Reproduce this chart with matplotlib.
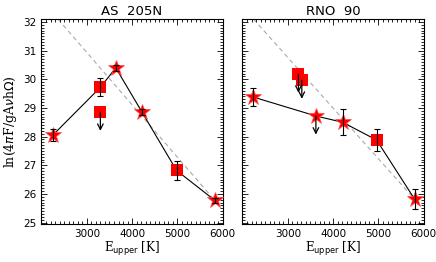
import matplotlib
matplotlib.use('Agg')
import matplotlib.pyplot as plt
import numpy as np
from matplotlib.ticker import MultipleLocator

# AS 205N
as_star_x = [2250, 3640, 4220, 5820]
as_star_y = [28.05, 30.40, 28.85, 25.78]
as_star_err = [0.21, 0.10, 0.10, 0.08]
as_sq_x = [3300, 4980]
as_sq_y = [29.72, 26.82]
as_sq_err = [0.31, 0.33]
as_lim_x = [3300]
as_lim_y = [28.85]
as_line_x = [2250, 3300, 3640, 4220, 4980, 5820]
as_line_y = [28.05, 29.72, 30.40, 28.85, 26.82, 25.78]
as_fit_x = [2365, 5820]
as_fit_y = [32.1, 25.78]

# RNO 90
rno_star_x = [2240, 4210, 5800]
rno_star_y = [29.38, 28.50, 25.81]
rno_star_err = [0.30, 0.45, 0.35]
rno_sq_x = [4960]
rno_sq_y = [27.88]
rno_sq_err = [0.37]
rno_limsq_x = [3235, 3310]
rno_limsq_y = [30.18, 29.97]
rno_limstar_x = [3620]
rno_limstar_y = [28.72]
rno_line_x = [2240, 3620, 4210, 4960, 5800]
rno_line_y = [29.38, 28.72, 28.50, 27.88, 25.81]
rno_fit_x = [2244, 5800]
rno_fit_y = [32.1, 25.81]

xticks = [3000, 4000, 5000, 6000]
arrow_len = 0.65

fig = plt.figure(figsize=(4.36, 2.62), dpi=100)
ax1 = fig.add_axes([0.094, 0.145, 0.417, 0.782])
ax2 = fig.add_axes([0.555, 0.145, 0.417, 0.782])

def arrows(ax, xs, ys):
    for x, y in zip(xs, ys):
        ax.annotate('', xy=(x, y - arrow_len), xytext=(x, y),
                    arrowprops=dict(arrowstyle='->', color='k', lw=0.9,
                                    mutation_scale=10, shrinkA=0, shrinkB=0))

def panel(ax, title, line_x, line_y, fit_x, fit_y, sx, sy, se, qx, qy, qe):
    ax.plot(fit_x, fit_y, '--', color='#aaaaaa', lw=0.8, zorder=1, dashes=(4, 3))
    ax.plot(line_x, line_y, '-', color='k', lw=0.8, zorder=2)
    ax.plot(sx, sy, '*', color='red', ms=12, mec='#ff5050', mew=0.5, zorder=3)
    ax.plot(qx, qy, 's', color='red', ms=8, mew=0, zorder=3)
    ax.errorbar(sx, sy, yerr=se, fmt='none', ecolor='k', elinewidth=0.8,
                capsize=2, capthick=0.8, zorder=4)
    ax.errorbar(qx, qy, yerr=qe, fmt='none', ecolor='k', elinewidth=0.8,
                capsize=2, capthick=0.8, zorder=4)
    ax.set_xlim(1990, 6000)
    ax.set_ylim(24.95, 32.1)
    ax.set_xticks(xticks)
    ax.xaxis.set_minor_locator(MultipleLocator(100))
    ax.yaxis.set_major_locator(MultipleLocator(1))
    ax.yaxis.set_minor_locator(MultipleLocator(0.1))
    ax.tick_params(which='both', direction='in', top=True, right=True,
                   labelsize=7.5, width=0.6)
    ax.tick_params(which='major', length=4)
    ax.tick_params(which='minor', length=2)
    for s in ax.spines.values():
        s.set_linewidth(0.8)
    ax.set_title(title, fontsize=9.5, pad=3)
    ax.set_xlabel(r'E$_{\rm upper}$ [K]', fontsize=8.5, family='DejaVu Serif', labelpad=1)

panel(ax1, 'AS  205N', as_line_x, as_line_y, as_fit_x, as_fit_y,
      as_star_x, as_star_y, as_star_err, as_sq_x, as_sq_y, as_sq_err)
ax1.plot(as_lim_x, as_lim_y, 's', color='red', ms=8, mew=0, zorder=3)
arrows(ax1, as_lim_x, as_lim_y)
ax1.set_ylabel(r'ln(4$\pi$F/gA$\nu$h$\Omega$)', fontsize=9, family='DejaVu Serif', labelpad=3)

panel(ax2, 'RNO  90', rno_line_x, rno_line_y, rno_fit_x, rno_fit_y,
      rno_star_x, rno_star_y, rno_star_err, rno_sq_x, rno_sq_y, rno_sq_err)
ax2.plot(rno_limsq_x, rno_limsq_y, 's', color='red', ms=8, mew=0, zorder=3)
ax2.plot(rno_limstar_x, rno_limstar_y, '*', color='red', ms=12, mec='#ff5050', mew=0.5, zorder=3)
arrows(ax2, rno_limsq_x, rno_limsq_y)
arrows(ax2, rno_limstar_x, rno_limstar_y)
ax2.set_yticklabels([])

fig.savefig('out.png', dpi=100)
